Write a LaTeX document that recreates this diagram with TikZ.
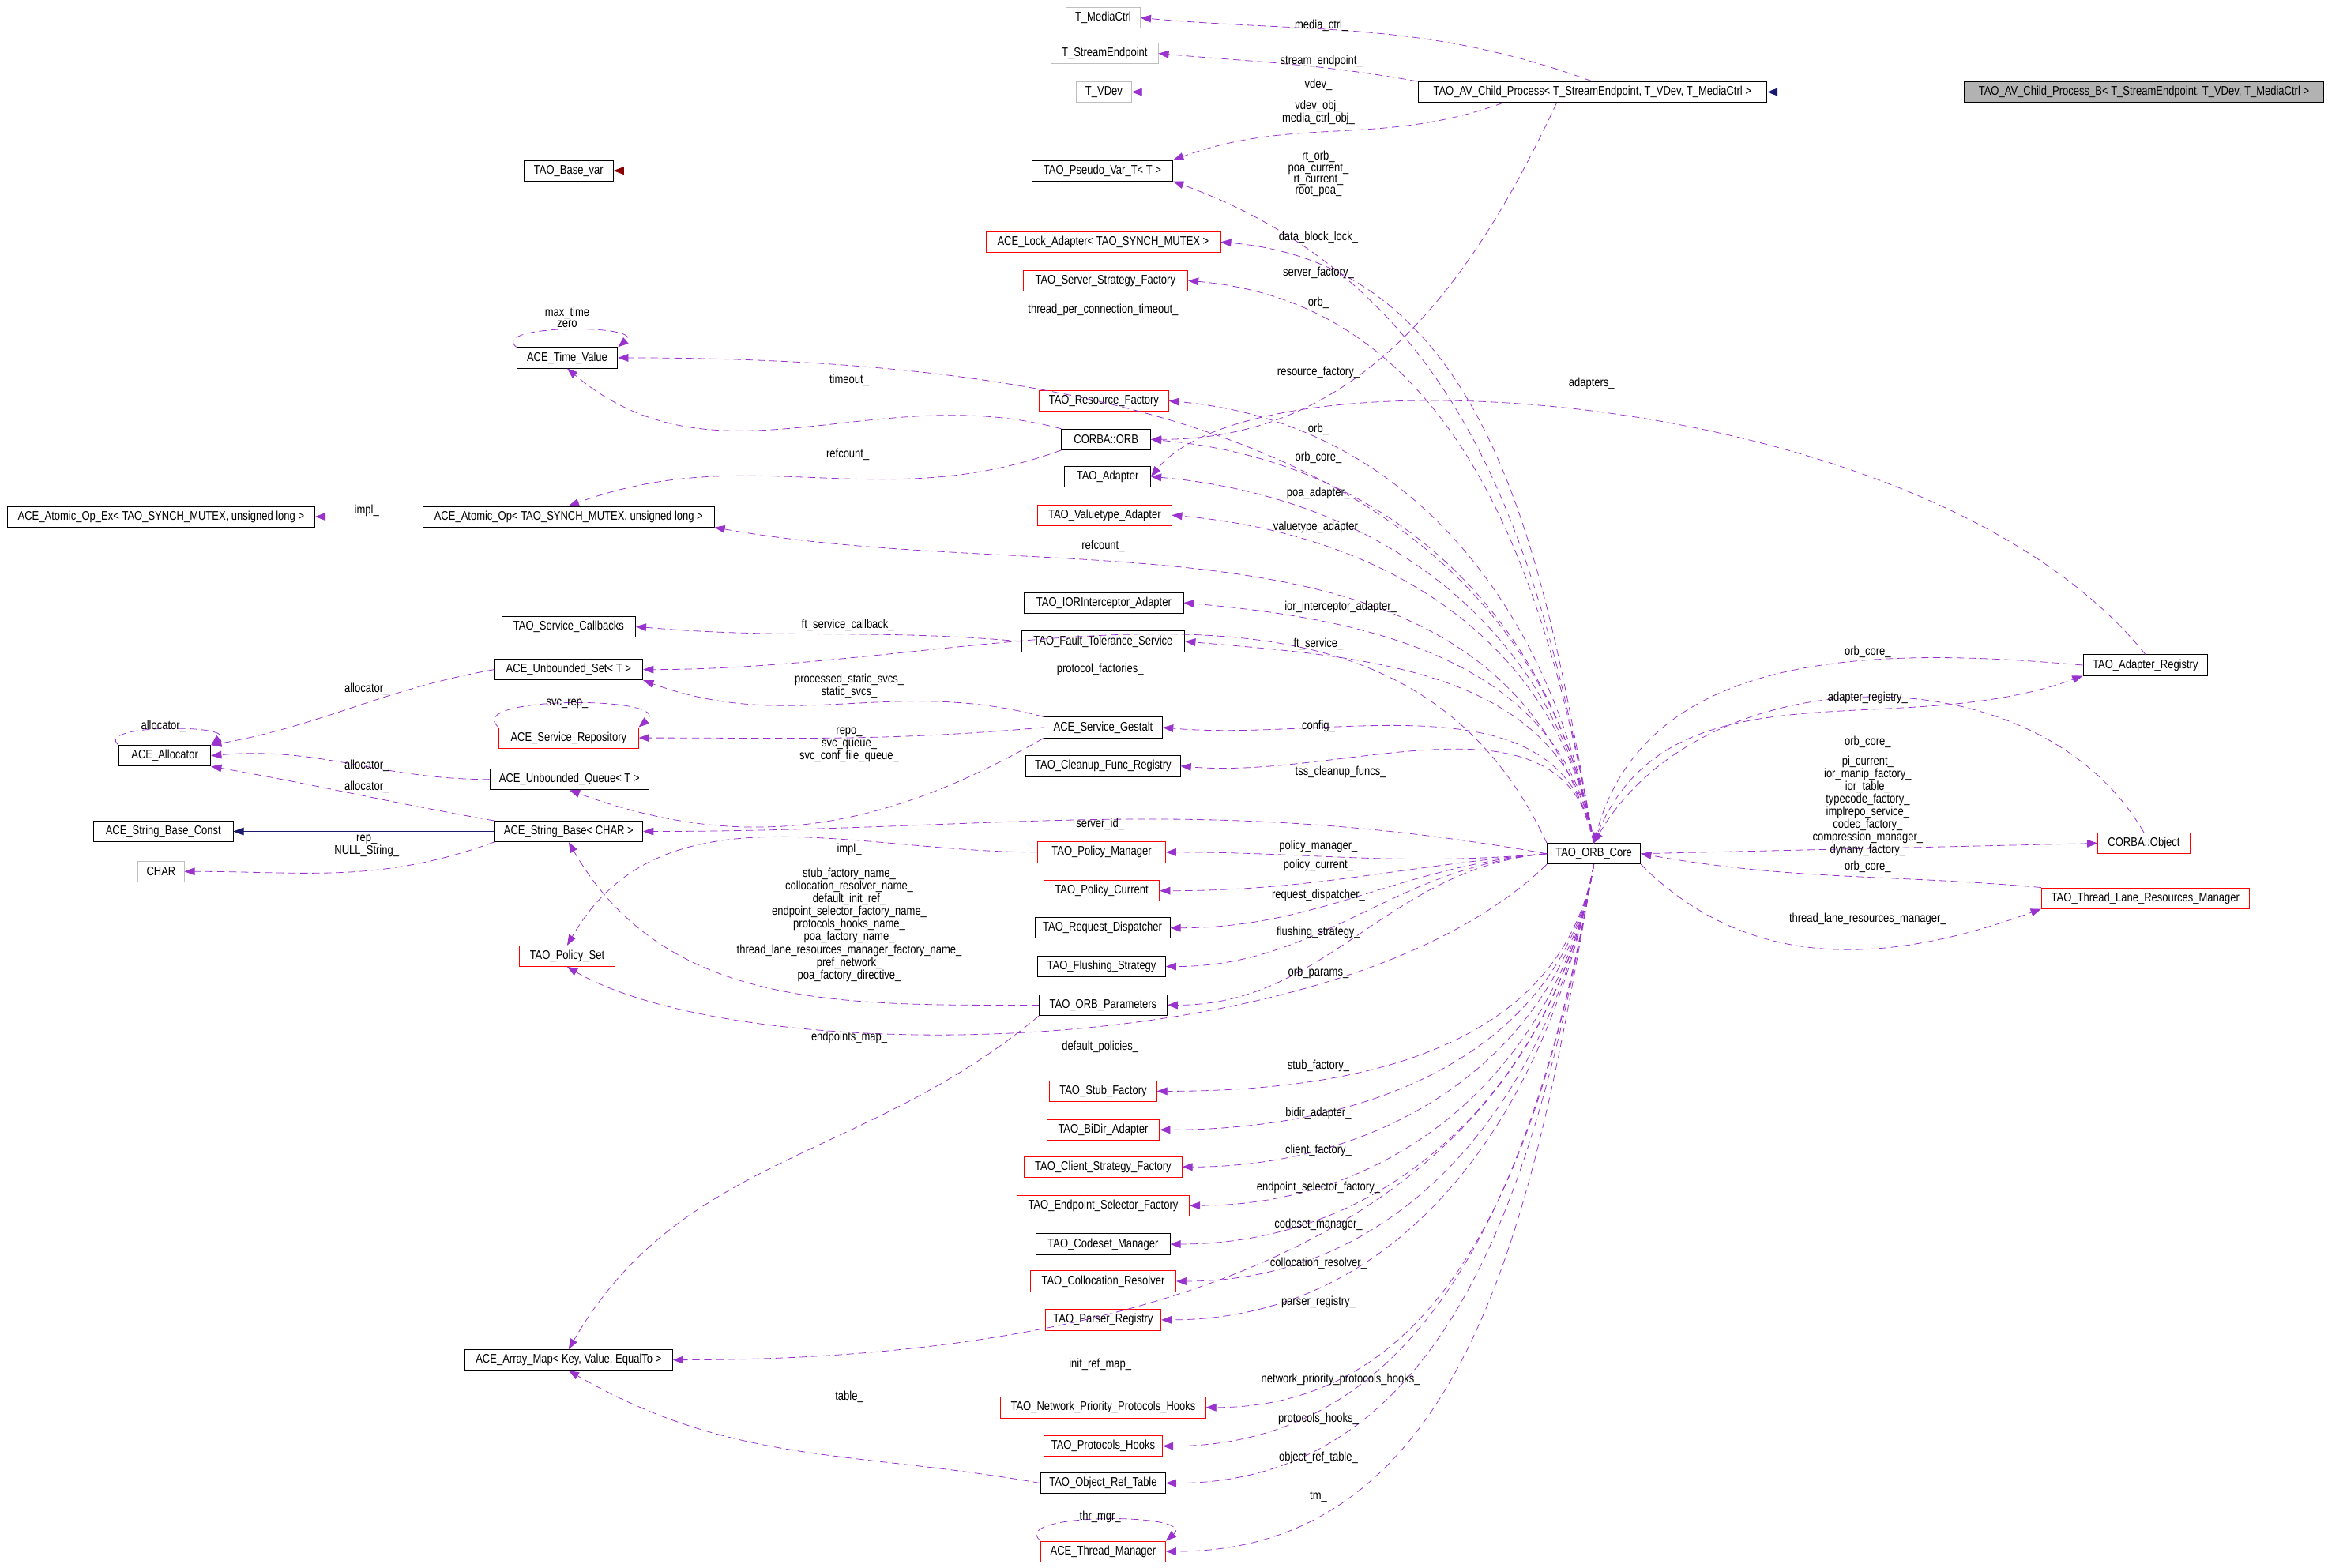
\documentclass[tikz,border=0pt]{standalone}
\usepackage{fontspec}
\setmainfont[FakeStretch=0.82]{Liberation Sans}
\usetikzlibrary{arrows.meta}
\definecolor{depcol}{RGB}{154,50,205}
\definecolor{inhblue}{RGB}{25,25,112}
\definecolor{inhred}{RGB}{139,0,0}
\newcommand{\lbl}{\fontsize{12}{10.6}\selectfont}
\tikzset{
  cls/.style={draw, font=\lbl, minimum height=7mm, inner sep=0pt, line width=0.6pt},
  redcls/.style={cls, draw=red},
  ghost/.style={cls, draw=black!25},
  lab/.style={font=\lbl, inner sep=0pt, align=center},
  dep/.style={draw=depcol, dashed, dash pattern=on 2.5mm off 1.5mm, line width=0.6pt,
    -{Triangle[length=3.5mm,width=2.6mm]}, depcol},
  inh/.style={draw=inhblue, line width=0.6pt, -{Triangle[length=3.5mm,width=2.6mm]}},
}
\begin{document}
\begin{tikzpicture}[x=0.5mm, y=-0.5mm]
    \useasboundingbox (0,0) rectangle (1568,1056);

    % classes
    \node[ghost, minimum width=25mm] (tmc) at (743,12) {T\_MediaCtrl};
    \node[ghost, minimum width=36mm] (tse) at (744,36) {T\_StreamEndpoint};
    \node[ghost, minimum width=18.5mm] (tvd) at (743.5,62) {T\_VDev};
    \node[cls, minimum width=117.5mm] (avcp) at (1072.5,62) {TAO\_AV\_Child\_Process< T\_StreamEndpoint, T\_VDev, T\_MediaCtrl >};
    \node[cls, fill=black!30, minimum width=121mm] (avcpb) at (1444,62) {TAO\_AV\_Child\_Process\_B< T\_StreamEndpoint, T\_VDev, T\_MediaCtrl >};
    \node[cls, minimum width=30mm] (basevar) at (383,115) {TAO\_Base\_var};
    \node[cls, minimum width=47.5mm] (pseudo) at (742.5,115) {TAO\_Pseudo\_Var\_T< T >};
    \node[redcls, minimum width=79mm] (lock) at (743,163) {ACE\_Lock\_Adapter< TAO\_SYNCH\_MUTEX >};
    \node[redcls, minimum width=55.5mm] (ssf) at (744.5,189) {TAO\_Server\_Strategy\_Factory};
    \node[cls, minimum width=34mm] (timev) at (382,241) {ACE\_Time\_Value};
    \node[redcls, minimum width=43.5mm] (resf) at (743.5,270) {TAO\_Resource\_Factory};
    \node[cls, minimum width=30mm] (orb) at (745,296) {CORBA::ORB};
    \node[cls, minimum width=29mm] (adapter) at (746,321) {TAO\_Adapter};
    \node[redcls, minimum width=45mm] (vta) at (744,347) {TAO\_Valuetype\_Adapter};
    \node[cls, minimum width=103.5mm] (aopex) at (108.5,348) {ACE\_Atomic\_Op\_Ex< TAO\_SYNCH\_MUTEX, unsigned long >};
    \node[cls, minimum width=98mm] (aop) at (383,348) {ACE\_Atomic\_Op< TAO\_SYNCH\_MUTEX, unsigned long >};
    \node[cls, minimum width=53.5mm] (iori) at (743.5,406) {TAO\_IORInterceptor\_Adapter};
    \node[cls, minimum width=45mm] (svccb) at (383,422) {TAO\_Service\_Callbacks};
    \node[cls, minimum width=55mm] (ft) at (743,432) {TAO\_Fault\_Tolerance\_Service};
    \node[cls, minimum width=50mm] (uset) at (383,451) {ACE\_Unbounded\_Set< T >};
    \node[redcls, minimum width=47mm] (srepo) at (383,497) {ACE\_Service\_Repository};
    \node[cls, minimum width=31mm] (alloc) at (111,509) {ACE\_Allocator};
    \node[cls, minimum width=40mm] (gestalt) at (743,490) {ACE\_Service\_Gestalt};
    \node[cls, minimum width=52mm] (cleanup) at (743,516) {TAO\_Cleanup\_Func\_Registry};
    \node[cls, minimum width=53.5mm] (uqueue) at (383.5,525) {ACE\_Unbounded\_Queue< T >};
    \node[cls, minimum width=47mm] (sbconst) at (110,560) {ACE\_String\_Base\_Const};
    \node[cls, minimum width=50mm] (sbase) at (383,560) {ACE\_String\_Base< CHAR >};
    \node[ghost, minimum width=15.5mm] (char) at (108.5,587) {CHAR};
    \node[redcls, minimum width=43mm] (pman) at (742,574) {TAO\_Policy\_Manager};
    \node[redcls, minimum width=39mm] (pcur) at (742,600) {TAO\_Policy\_Current};
    \node[cls, minimum width=45.5mm] (rdisp) at (742.5,625) {TAO\_Request\_Dispatcher};
    \node[cls, minimum width=43mm] (flush) at (742,651) {TAO\_Flushing\_Strategy};
    \node[redcls, minimum width=32mm] (pset) at (382,644) {TAO\_Policy\_Set};
    \node[cls, minimum width=43mm] (orbp) at (743,677) {TAO\_ORB\_Parameters};
    \node[redcls, minimum width=36mm] (stub) at (743,735) {TAO\_Stub\_Factory};
    \node[redcls, minimum width=38mm] (bidir) at (743,761) {TAO\_BiDir\_Adapter};
    \node[redcls, minimum width=53mm] (csf) at (743,786) {TAO\_Client\_Strategy\_Factory};
    \node[redcls, minimum width=58mm] (esf) at (743,812) {TAO\_Endpoint\_Selector\_Factory};
    \node[cls, minimum width=45mm] (codeset) at (743,838) {TAO\_Codeset\_Manager};
    \node[redcls, minimum width=49mm] (colloc) at (743,863) {TAO\_Collocation\_Resolver};
    \node[redcls, minimum width=39mm] (parser) at (743,889) {TAO\_Parser\_Registry};
    \node[cls, minimum width=70mm] (amap) at (383,916) {ACE\_Array\_Map< Key, Value, EqualTo >};
    \node[redcls, minimum width=69mm] (nph) at (743,948) {TAO\_Network\_Priority\_Protocols\_Hooks};
    \node[redcls, minimum width=40mm] (phooks) at (743,974) {TAO\_Protocols\_Hooks};
    \node[cls, minimum width=42mm] (ort) at (743,999) {TAO\_Object\_Ref\_Table};
    \node[redcls, minimum width=42mm] (thrmgr) at (743,1045) {ACE\_Thread\_Manager};
    \node[cls, minimum width=31.5mm] (core) at (1073.5,575) {TAO\_ORB\_Core};
    \node[cls, minimum width=42mm] (areg) at (1445,448) {TAO\_Adapter\_Registry};
    \node[redcls, minimum width=31mm] (cobj) at (1444,568) {CORBA::Object};
    \node[redcls, minimum width=70mm] (tlrm) at (1445,605) {TAO\_Thread\_Lane\_Resources\_Manager};

    % inheritance
    \draw[inh] (avcpb.west) -- (avcp.east);
    \draw[inh] (sbase.west) -- (sbconst.east);
    \draw[inh, draw=inhred, inhred] (pseudo.west) -- (basevar.east);

    % members of the child process
    \draw[dep] (avcp.north) to[out=160,in=-5] (tmc.east);
    \draw[dep] (avcp.north west) to[out=170,in=-5] (tse.east);
    \draw[dep] (avcp.west) -- (tvd.east);
    \draw[dep] ([xshift=-30mm]avcp.south) to[out=200,in=20] (pseudo.north east);
    \draw[dep] ([xshift=-12mm]avcp.south) to[out=-115,in=0] (orb.east);

    % members of the orb core
    \draw[dep] (core.north) to[out=100,in=-20] (pseudo.south east);
    \foreach \t in {lock,ssf,resf,orb,adapter,vta,iori,ft,gestalt,cleanup}
        \draw[dep] (core.north) to[out=100,in=-5] (\t.east);
    \draw[dep] (core.north) to[out=100,in=0] (timev.east);
    \draw[dep] (core.north) to[out=105,in=-10] (aop.south east);
    \draw[dep] (core.north west) to[out=115,in=0] (uset.east);
    \draw[dep] (core.west) to[out=170,in=0] (sbase.east);
    \foreach \t in {pman,pcur,rdisp,flush,orbp}
        \draw[dep] (core.west) to[out=185,in=0] (\t.east);
    \draw[dep] (core.south west) .. controls (900,720) and (500,720) .. (pset.south);
    \foreach \t in {stub,bidir,csf,esf,codeset,colloc,parser,nph,phooks,ort,thrmgr,amap}
        \draw[dep] (core.south) to[out=-100,in=0] (\t.east);
    \draw[dep] (core.north) to[out=70,in=200] (areg.south west);
    \draw[dep] (core.east) -- (cobj.west);
    \draw[dep] (core.south east) to[out=-45,in=200] (tlrm.south west);

    % back to the orb core
    \draw[dep] (areg.west) to[out=175,in=75] (core.north);
    \draw[dep] (cobj.north) to[out=120,in=60] (core.north);
    \draw[dep] (tlrm.north west) to[out=175,in=-10] (core.east);
    \draw[dep] (areg.north) .. controls (1300,260) and (850,230) .. (adapter.east);

    % the rest
    \draw[dep] (orb.north west) to[out=165,in=-40] (timev.south);
    \draw[dep] (orb.south west) to[out=200,in=20] (aop.north);
    \draw[dep] (aop.west) -- (aopex.east);
    \draw[dep] (ft.west) to[out=175,in=-5] (svccb.east);
    \draw[dep] (gestalt.north west) to[out=165,in=-20] (uset.south east);
    \draw[dep] (gestalt.west) to[out=185,in=0] (srepo.east);
    \draw[dep] (gestalt.south west) to[out=210,in=-20] (uqueue.south);
    \draw[dep] (uset.west) to[out=190,in=10] (alloc.north east);
    \draw[dep] (uqueue.west) to[out=180,in=5] (alloc.east);
    \draw[dep] (sbase.north west) to[out=170,in=-10] (alloc.south east);
    \draw[dep] (sbase.south west) to[out=200,in=0] (char.east);
    \draw[dep] (pman.west) to[out=180,in=60] (pset.north);
    \draw[dep] (orbp.west) to[out=180,in=-60] (sbase.south);
    \draw[dep] (orbp.south west) to[out=220,in=60] (amap.north);
    \draw[dep] (ort.west) to[out=170,in=-30] (amap.south);
    \draw[dep] (timev.north west) to[out=140,in=40,looseness=0.9] (timev.north east);
    \draw[dep] (srepo.north west) to[out=140,in=40,looseness=0.9] (srepo.north east);
    \draw[dep] (alloc.north west) to[out=140,in=40,looseness=0.9] (alloc.north east);
    \draw[dep] (thrmgr.north west) to[out=140,in=40,looseness=0.9] (thrmgr.north east);

    % member names
    \node[lab] (lmc) at (890,17) {media\_ctrl\_};
    \node[lab] (lse) at (890,41) {stream\_endpoint\_};
    \node[lab] (lvd) at (888,57) {vdev\_};
    \node[lab] (lvo) at (888,76) {vdev\_obj\_\\media\_ctrl\_obj\_};
    \node[lab] (lrt) at (888,117) {rt\_orb\_\\poa\_current\_\\rt\_current\_\\root\_poa\_};
    \node[lab] (ldb) at (888,160) {data\_block\_lock\_};
    \node[lab] (lsf) at (888,184) {server\_factory\_};
    \node[lab] (lob) at (888,204) {orb\_};
    \node[lab] (ltp) at (743,209) {thread\_per\_connection\_timeout\_};
    \node[lab] (lmt) at (382,214) {max\_time\\zero};
    \node[lab] (lad) at (1072,258) {adapters\_};
    \node[lab] (lrf) at (888,251) {resource\_factory\_};
    \node[lab] (lto) at (572,256) {timeout\_};
    \node[lab] (lo2) at (888,289) {orb\_};
    \node[lab] (loc) at (888,308) {orb\_core\_};
    \node[lab] (lrc) at (571,306) {refcount\_};
    \node[lab] (lpa) at (888,332) {poa\_adapter\_};
    \node[lab] (lim) at (247,344) {impl\_};
    \node[lab] (lva) at (888,355) {valuetype\_adapter\_};
    \node[lab] (lr2) at (743,368) {refcount\_};
    \node[lab] (lia) at (903,409) {ior\_interceptor\_adapter\_};
    \node[lab] (lfc) at (571,421) {ft\_service\_callback\_};
    \node[lab] (lfs) at (888,434) {ft\_service\_};
    \node[lab] (lpf) at (741,451) {protocol\_factories\_};
    \node[lab] (lps) at (572,462) {processed\_static\_svcs\_\\static\_svcs\_};
    \node[lab] (la1) at (247,464) {allocator\_};
    \node[lab] (lsr) at (382,474) {svc\_rep\_};
    \node[lab] (la0) at (110,489) {allocator\_};
    \node[lab] (lcf) at (888,489) {config\_};
    \node[lab] (lre) at (572,493) {repo\_};
    \node[lab] (lsq) at (572,506) {svc\_queue\_\\svc\_conf\_file\_queue\_};
    \node[lab] (la2) at (247,516) {allocator\_};
    \node[lab] (ltc) at (903,520) {tss\_cleanup\_funcs\_};
    \node[lab] (la3) at (247,530) {allocator\_};
    \node[lab] (lsi) at (741,555) {server\_id\_};
    \node[lab] (lrp) at (247,570) {rep\_\\NULL\_String\_};
    \node[lab] (lpi) at (572,572) {impl\_};
    \node[lab] (lpm) at (888,570) {policy\_manager\_};
    \node[lab] (lpc) at (888,583) {policy\_current\_};
    \node[lab] (lrd) at (888,603) {request\_dispatcher\_};
    \node[lab] (lfl) at (888,628) {flushing\_strategy\_};
    \node[lab] (lop) at (888,655) {orb\_params\_};
    \node[lab] (lsn) at (572,623) {stub\_factory\_name\_\\collocation\_resolver\_name\_\\default\_init\_ref\_\\endpoint\_selector\_factory\_name\_\\protocols\_hooks\_name\_\\poa\_factory\_name\_\\thread\_lane\_resources\_manager\_factory\_name\_\\pref\_network\_\\poa\_factory\_directive\_};
    \node[lab] (lem) at (572,699) {endpoints\_map\_};
    \node[lab] (ldp) at (741,705) {default\_policies\_};
    \node[lab] (lst) at (888,718) {stub\_factory\_};
    \node[lab] (lbd) at (888,750) {bidir\_adapter\_};
    \node[lab] (lcl) at (888,775) {client\_factory\_};
    \node[lab] (les) at (888,800) {endpoint\_selector\_factory\_};
    \node[lab] (lcs) at (888,825) {codeset\_manager\_};
    \node[lab] (lcr) at (888,851) {collocation\_resolver\_};
    \node[lab] (lpr) at (888,877) {parser\_registry\_};
    \node[lab] (lir) at (741,919) {init\_ref\_map\_};
    \node[lab] (lnp) at (903,929) {network\_priority\_protocols\_hooks\_};
    \node[lab] (ltb) at (572,941) {table\_};
    \node[lab] (lph) at (888,956) {protocols\_hooks\_};
    \node[lab] (lor) at (888,982) {object\_ref\_table\_};
    \node[lab] (ltm) at (888,1008) {tm\_};
    \node[lab] (ltg) at (741,1022) {thr\_mgr\_};
    \node[lab] (lc1) at (1258,439) {orb\_core\_};
    \node[lab] (lar) at (1258,470) {adapter\_registry\_};
    \node[lab] (lc2) at (1258,500) {orb\_core\_};
    \node[lab] (lpcur) at (1258,543) {pi\_current\_\\ior\_manip\_factory\_\\ior\_table\_\\typecode\_factory\_\\implrepo\_service\_\\codec\_factory\_\\compression\_manager\_\\dynany\_factory\_};
    \node[lab] (lc3) at (1258,584) {orb\_core\_};
    \node[lab] (ltl) at (1258,619) {thread\_lane\_resources\_manager\_};
\end{tikzpicture}
\end{document}
